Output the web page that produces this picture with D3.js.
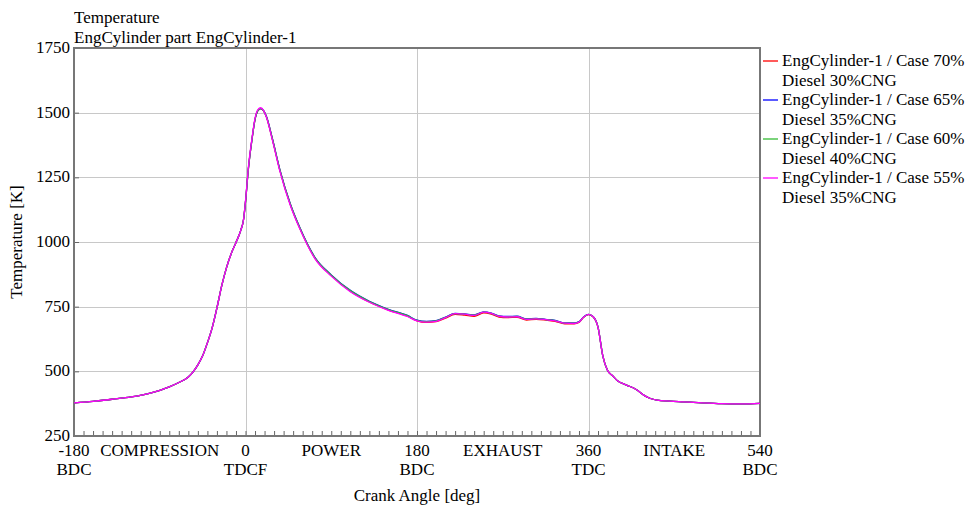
<!DOCTYPE html>
<html>
<head>
<meta charset="utf-8">
<script src="https://cdn.jsdelivr.net/npm/d3@7/dist/d3.min.js"></script>
<style>
  html, body { margin: 0; padding: 0; background: #fff; }
  svg text { font-family: "Liberation Serif", "Times New Roman", serif; fill: #000; }
</style>
</head>
<body>
<svg id="chart" width="965" height="505"></svg>
<script>
// Crank angle samples (deg) shared by all cases
const crankAngle = [-180,-160,-140,-120,-100,-80,-70,-60,-55,-50,-45,-40,-35,-30,-25,-20,-15,-10,-5,-2,0,3,7,10,13,16,19,22,28,36,47,57,73,90,110,130,150,170,180,190,200,210,220,230,240,250,258,266,275,285,295,305,315,325,335,345,350,355,360,365,370,375,380,385,390,400,410,418,425,432,445,460,480,500,520,540];

// In-cylinder temperature [K] for each fuel case
const tCase70 = [378,384,392,401,416,440,457,478,498,525,560,610,668,745,830,900,955,998,1045,1088,1155,1282,1402,1474,1508,1516,1507,1483,1400,1278,1145,1053,937,870,810,768,737,713,695,689,692,706,720,717,713,726,721,710,708,709,698,701,698,693,684,684,689,709,719,710,670,560,503,484,465,447,430,408,395,389,385,382,378,375,374,376];
const tCase65 = [378,384,392,401,416,440,457,478,498,525,560,610,668,745,830,900,955,998,1045,1088,1155,1282,1402,1474,1508,1516,1508,1485,1403,1281,1148,1056,940,873,813,771,740,716,698,693,696,710,724,722,718,730,725,714,712,713,703,705,701,697,687,687,692,711,720,711,671,560,503,484,465,447,430,408,395,389,385,382,378,375,374,376];
const tCase60 = [378,384,392,401,416,440,457,478,498,525,560,610,668,745,830,900,955,998,1045,1088,1155,1282,1402,1474,1508,1516,1507,1484,1402,1280,1147,1055,939,872,812,770,739,715,697,692,695,709,723,721,717,729,724,713,711,712,702,704,700,696,686,686,691,710,720,711,671,560,503,484,465,447,430,408,395,389,385,382,378,375,374,376];
const tCase55 = [378,384,392,401,416,440,457,478,498,525,560,610,668,745,830,900,955,998,1045,1088,1158,1288,1406,1478,1512,1519,1508,1482,1398,1275,1142,1051,935,868,808,767,736,712,695,690,693,708,723,721,716,729,724,713,710,711,701,703,700,695,686,685,690,710,720,711,670,560,503,484,465,447,430,408,395,389,385,382,378,375,374,376];

const seriesNames = [
  ["EngCylinder-1 / Case 70%", "Diesel 30%CNG"],
  ["EngCylinder-1 / Case 65%", "Diesel 35%CNG"],
  ["EngCylinder-1 / Case 60%", "Diesel 40%CNG"],
  ["EngCylinder-1 / Case 55%", "Diesel 35%CNG"]
];
const seriesColors = ["#ff0000", "#0000ff", "#33bb33", "#ff00ff"];
const seriesValues = [tCase70, tCase65, tCase60, tCase55];

// Axis tick labels
const xMajorTicks = [-180, 0, 180, 360, 540];
const xTickSub = ["BDC", "TDCF", "BDC", "TDC", "BDC"];
const strokeLabels = ["COMPRESSION", "POWER", "EXHAUST", "INTAKE"];
const yTicks = [250, 500, 750, 1000, 1250, 1500, 1750];

const FS = 17;
const svg = d3.select("#chart");
const plot = { left: 74, right: 760, top: 48, bottom: 436 };

const x = d3.scaleLinear().domain([-180, 540]).range([plot.left, plot.right]);
const y = d3.scaleLinear().domain([250, 1750]).range([plot.bottom, plot.top]);

// Grid lines
const grid = svg.append("g").attr("stroke", "#c8c8c8").attr("stroke-width", 1);
grid.selectAll("line.gx").data(xMajorTicks.slice(1, -1)).join("line")
  .attr("x1", d => Math.round(x(d)) + 0.5).attr("x2", d => Math.round(x(d)) + 0.5)
  .attr("y1", plot.top).attr("y2", plot.bottom);
grid.selectAll("line.gy").data(yTicks.slice(1, -1)).join("line")
  .attr("x1", plot.left).attr("x2", plot.right)
  .attr("y1", d => Math.round(y(d)) + 0.5).attr("y2", d => Math.round(y(d)) + 0.5);

// Minor ticks along the bottom every 10 deg, pointing into the plot
const xAxis = d3.axisBottom(x).tickValues(d3.range(-170, 540, 10)).tickSize(-5).tickFormat("");
const gx = svg.append("g").attr("transform", `translate(0,${plot.bottom})`).call(xAxis);
gx.select(".domain").remove();
gx.selectAll(".tick line").attr("stroke", "#666");

// Left ticks at each major value
const yAxis = d3.axisLeft(y).tickValues(yTicks).tickSize(-5).tickFormat("");
const gy = svg.append("g").attr("transform", `translate(${plot.left},0)`).call(yAxis);
gy.select(".domain").remove();
gy.selectAll(".tick line").attr("stroke", "#666");

// Frame
svg.append("rect")
  .attr("x", plot.left).attr("y", plot.top)
  .attr("width", plot.right - plot.left).attr("height", plot.bottom - plot.top)
  .attr("fill", "none").attr("stroke", "#777").attr("stroke-width", 2);

// Curves
svg.append("clipPath").attr("id", "clip").append("rect")
  .attr("x", plot.left).attr("y", plot.top)
  .attr("width", plot.right - plot.left).attr("height", plot.bottom - plot.top);
const line = d3.line().x((d, i) => x(crankAngle[i])).y(d => y(d)).curve(d3.curveMonotoneX);
svg.append("g").attr("clip-path", "url(#clip)")
  .selectAll("path").data(seriesValues).join("path")
  .attr("d", d => line(d))
  .attr("fill", "none")
  .attr("stroke", (d, i) => seriesColors[i])
  .attr("stroke-width", 1.3);

// Y tick labels
svg.append("g").selectAll("text").data(yTicks).join("text")
  .attr("x", plot.left - 4).attr("y", d => y(d) + 5)
  .attr("text-anchor", "end").attr("font-size", FS)
  .text(d => d);

// X tick labels (two rows)
const xl = svg.append("g");
xl.selectAll("text.v").data(xMajorTicks).join("text")
  .attr("x", d => x(d)).attr("y", 456)
  .attr("text-anchor", "middle").attr("font-size", FS)
  .text(d => d);
xl.selectAll("text.s").data(xMajorTicks).join("text")
  .attr("x", d => x(d)).attr("y", 475)
  .attr("text-anchor", "middle").attr("font-size", FS)
  .text((d, i) => xTickSub[i]);
xl.selectAll("text.p").data(strokeLabels).join("text")
  .attr("x", (d, i) => (x(xMajorTicks[i]) + x(xMajorTicks[i + 1])) / 2).attr("y", 456)
  .attr("text-anchor", "middle").attr("font-size", FS)
  .text(d => d);

// Axis titles
svg.append("text").attr("x", (plot.left + plot.right) / 2).attr("y", 501)
  .attr("text-anchor", "middle").attr("font-size", FS).text("Crank Angle [deg]");
svg.append("text").attr("transform", "translate(22,242) rotate(-90)")
  .attr("text-anchor", "middle").attr("font-size", FS).text("Temperature [K]");

// Title
svg.append("text").attr("x", plot.left).attr("y", 23).attr("font-size", FS).text("Temperature");
svg.append("text").attr("x", plot.left).attr("y", 43).attr("font-size", FS).text("EngCylinder part EngCylinder-1");

// Legend
const leg = svg.append("g").attr("transform", "translate(763,0)");
const items = leg.selectAll("g").data(seriesNames).join("g")
  .attr("transform", (d, i) => `translate(0,${61 + i * 39})`);
items.append("line").attr("x1", 0).attr("x2", 15).attr("y1", 0).attr("y2", 0)
  .attr("stroke", (d, i) => seriesColors[i]).attr("stroke-width", 1.3);
items.append("text").attr("x", 19).attr("y", 5).attr("font-size", FS).text(d => d[0]);
items.append("text").attr("x", 19).attr("y", 24.5).attr("font-size", FS).text(d => d[1]);
</script>
</body>
</html>
